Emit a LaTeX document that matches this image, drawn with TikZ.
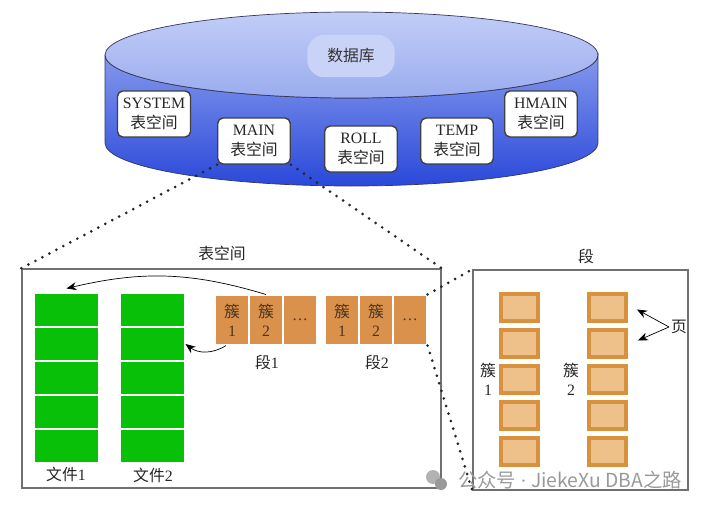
\documentclass[tikz,border=0pt]{standalone}
\usepackage{fontspec}
\setmainfont{Liberation Serif}
\newfontfamily\cjk{Noto Sans CJK SC}
\newcommand{\zh}[1]{{\cjk #1}}
\usetikzlibrary{positioning,arrows.meta,shapes,calc,fit,backgrounds}
\usepackage{xcolor}
\definecolor{dbSideTop}{HTML}{8498EC}
\definecolor{dbSideBot}{HTML}{2A48DA}
\definecolor{dbTopA}{HTML}{C2CDF6}
\definecolor{dbTopB}{HTML}{9AACEF}
\definecolor{dbGlow}{HTML}{C9D3F7}
\definecolor{dbEdge}{HTML}{34365A}
\definecolor{tsEdge}{HTML}{404040}
\definecolor{panelEdge}{HTML}{707070}
\definecolor{fileGreen}{HTML}{08C008}
\definecolor{cluOrange}{HTML}{D9914B}
\definecolor{cluText}{HTML}{4A3520}
\definecolor{pgOut}{HTML}{D8923E}
\definecolor{pgIn}{HTML}{EEC08A}

\begin{document}
\begin{tikzpicture}[x=0.02cm,y=-0.02cm,
      tsbox/.style={draw=tsEdge,thick,fill=white,rounded corners=3pt,align=center,
                  minimum width=1.45cm,minimum height=0.92cm,inner sep=3pt,
                  font=\small,text=black!85},
      dbtag/.style={fill=dbGlow,rounded corners=10pt,minimum width=1.75cm,
                  minimum height=0.85cm,font=\small,text=black!80},
      panel/.style={draw=panelEdge,line width=0.8pt,inner sep=0pt},
      title/.style={font=\small,text=black!85},
      lbl/.style={font=\small,text=black!85,align=center,inner sep=1pt},
      blk/.style={fill=fileGreen,draw=white,line width=0.6pt,inner sep=0pt,
                  minimum width=1.3cm,minimum height=0.68cm},
      clu/.style={fill=cluOrange,draw=white,line width=0.6pt,inner sep=0pt,
                  minimum width=0.68cm,minimum height=1.0cm,align=center,
                  font=\small,text=cluText},
      pg/.style={fill=pgIn,draw=pgOut,line width=0.08cm,inner sep=0pt,
                  minimum width=0.74cm,minimum height=0.54cm},
      link/.style={line width=1.7pt,dash pattern=on 0pt off 4.5pt,line cap=round,black!85},
      wmtext/.style={font=\cjk\fontsize{11}{13}\selectfont,text=black!40},
      arr/.style={-{Stealth[length=2mm,width=1.6mm]},thin,black}]
    \useasboundingbox (0,0) rectangle (711,507);

    % database cylinder
    \draw[dbEdge,top color=dbSideTop,bottom color=dbSideBot]
      (105,55) -- (105,143) arc[start angle=180,end angle=0,x radius=246.5,y radius=43]
      -- (598,55) arc[start angle=0,end angle=180,x radius=246.5,y radius=43] -- cycle;
    \draw[dbEdge,top color=dbTopA,bottom color=dbTopB]
      (351.5,55) ellipse[x radius=246.5,y radius=43];
    \node[dbtag] (db) at (351,56) {\zh{数据库}};

    \node[tsbox] (sys)   at (154,114) {SYSTEM\\\zh{表空间}};
    \node[tsbox] (main)  at (254,141) {MAIN\\\zh{表空间}};
    \node[tsbox] (roll)  at (361,149) {ROLL\\\zh{表空间}};
    \node[tsbox] (temp)  at (457,141) {TEMP\\\zh{表空间}};
    \node[tsbox] (hmain) at (541,114) {HMAIN\\\zh{表空间}};

    % tablespace panel
    \node[panel,minimum width=8.38cm,minimum height=4.38cm] (tsp) at (231.5,378.5) {};
    \node[title] (tsptitle) at (222,253) {\zh{表空间}};
    \foreach \i in {1,...,5} {
      \node[blk] (fa\i) at (66.5,276+34*\i) {};
      \node[blk] (fb\i) at (152.5,276+34*\i) {};
    }
    \node[lbl] (fa) at (66,474)  {\zh{文件}1};
    \node[lbl] (fb) at (153,475) {\zh{文件}2};

    \foreach \s/\x in {1/232,2/342} {
      \node[clu] (s\s-c1) at (\x,320)    {\zh{簇}\\1};
      \node[clu] (s\s-c2) at (\x+34,320) {\zh{簇}\\2};
      \node[clu] (s\s-c3) at (\x+68,320) {\dots};
    }
    \node[lbl] (seg1) at (267,362) {\zh{段}1};
    \node[lbl] (seg2) at (377,362) {\zh{段}2};

    \draw[arr] (s1-c2.north) to[bend right=15] ([yshift=0.08cm]fa1.north);
    \draw[arr] ([xshift=-0.12cm]s1-c1.south) to[bend left=35] (fb2.east);

    % segment panel
    \node[panel,minimum width=4.3cm,minimum height=4.4cm] (segp) at (580.5,380) {};
    \node[title] (segtitle) at (586,256) {\zh{段}};
    \foreach \c/\x in {1/519.5,2/607.5} {
      \foreach \p in {1,...,5} {
        \node[pg] (pg\c-\p) at (\x,271.5+36*\p) {};
      }
    }
    \node[lbl] (k1) at (488,379) {\zh{簇}\\1};
    \node[lbl] (k2) at (571,379) {\zh{簇}\\2};
    \node[lbl] (ye) at (679,327) {\zh{页}};
    \draw[arr] (ye.west) -- ([xshift=0.18cm,yshift=-0.04cm]pg2-1.east);
    \draw[arr] (ye.west) -- ([xshift=0.2cm,yshift=0.06cm]pg2-2.east);

    % zoom lines
    \draw[link] (main.south west) -- (tsp.north west);
    \draw[link] (main.south east) -- (tsp.north east);
    \draw[link] (s2-c3.north east) -- (segp.north west);
    \draw[link] (s2-c3.south east) -- (segp.south west);

    % watermark
    \fill[black!30] (433,477) circle[radius=7];
    \fill[black!40] (441,484) circle[radius=6];
    \node[wmtext] (wm) at (570,480) {公众号 {\rmfamily\textperiodcentered} JiekeXu DBA之路};
  \end{tikzpicture}
\end{document}
